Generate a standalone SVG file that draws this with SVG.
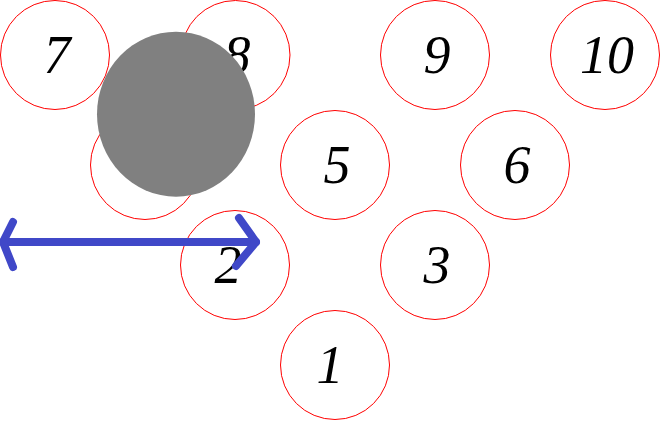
<svg xmlns="http://www.w3.org/2000/svg" width="660" height="445" viewBox="0 0 660 445">
<style>
.pin{fill:#fff;stroke:#ff0000;stroke-width:1}
.num{font-family:"Liberation Serif","DejaVu Serif",serif;font-style:italic;font-size:54px;fill:#000;text-anchor:middle}
.arr{fill:none;stroke:#4048c8;stroke-width:8;stroke-linecap:round;stroke-linejoin:round}
</style>
<rect width="660" height="445" fill="#fff"/>
<g id="pin7"><circle class="pin" cx="55" cy="55" r="54.5"/><text class="num" x="57" y="73">7</text></g>
<g id="pin8"><circle class="pin" cx="235.5" cy="55" r="54.5"/><text class="num" x="237" y="73">8</text></g>
<g id="pin9"><circle class="pin" cx="435" cy="55" r="54.5"/><text class="num" x="437" y="73">9</text></g>
<g id="pin10"><circle class="pin" cx="605" cy="55" r="54.5"/><text class="num" x="607" y="73">10</text></g>
<g id="pin4"><circle class="pin" cx="145" cy="165" r="54.5"/><text class="num" x="147" y="183">4</text></g>
<g id="pin5"><circle class="pin" cx="335" cy="165" r="54.5"/><text class="num" x="337" y="183">5</text></g>
<g id="pin6"><circle class="pin" cx="515" cy="165" r="54.5"/><text class="num" x="517" y="183">6</text></g>
<g id="pin2"><circle class="pin" cx="235" cy="265" r="54.5"/><text class="num" x="228" y="283">2</text></g>
<g id="pin3"><circle class="pin" cx="435" cy="265" r="54.5"/><text class="num" x="437" y="283">3</text></g>
<g id="pin1"><circle class="pin" cx="335" cy="365" r="54.5"/><text class="num" x="330" y="383">1</text></g>
<g id="ball"><ellipse cx="176" cy="114.2" rx="79" ry="82.5" fill="#808080"/></g>
<g id="connectors">
<path class="arr" d="M3 242 H256"/>
<path class="arr" d="M13 222 L3 242 L13 267"/>
<path class="arr" d="M239 218 L256 242 L236 266"/>
</g>
</svg>
